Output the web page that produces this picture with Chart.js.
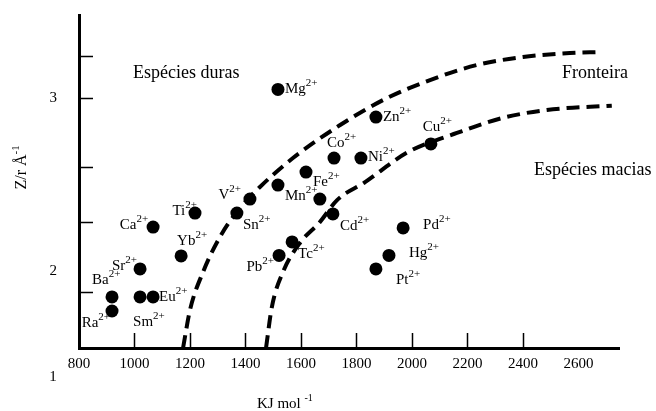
<!DOCTYPE html>
<html>
<head>
<meta charset="utf-8">
<script src="https://cdn.jsdelivr.net/npm/chart.js@4/dist/chart.umd.min.js"></script>
<style>
    html, body { margin: 0; padding: 0; background: #fff; }
    #wrap { width: 656px; height: 411px; }
</style>
</head>
<body>
<div id="wrap"><canvas id="chart"></canvas></div>
<script>
// Ions (x = KJ mol-1, y = Z/r)
const ions = ['Mg', 'Zn', 'Cu', 'Co', 'Ni', 'Fe', 'Mn', '', 'V', 'Sn', 'Ti', 'Cd', 'Ca', 'Pd',
    'Tc', 'Yb', 'Pb', 'Hg', 'Sr', 'Pt', 'Ba', 'Sm', 'Eu', 'Ra'];
const kjValues = [1517, 1870, 2068, 1719, 1816, 1618, 1517, 1668, 1416, 1369, 1218, 1715, 1067, 1968,
    1568, 1168, 1521, 1917, 1020, 1870, 919, 1020, 1067, 919];
const zrValues = [3.05, 2.89, 2.735, 2.653, 2.653, 2.572, 2.497, 2.416, 2.416, 2.335, 2.335, 2.33, 2.254, 2.249,
    2.168, 2.087, 2.09, 2.09, 2.012, 2.012, 1.85, 1.85, 1.85, 1.769];

// Dashed boundaries
const outerX = [1175, 1200, 1247, 1308, 1380, 1452, 1571, 1741, 1910, 2065, 2234, 2400, 2569, 2677];
const outerY = [1.555, 1.775, 1.994, 2.197, 2.364, 2.486, 2.653, 2.844, 3.0, 3.104, 3.191, 3.237, 3.26, 3.266];
const innerX = [1474, 1495, 1535, 1596, 1668, 1730, 1831, 1986, 2162, 2324, 2486, 2720];
const innerY = [1.555, 1.792, 1.994, 2.162, 2.283, 2.41, 2.514, 2.688, 2.798, 2.884, 2.931, 2.956];

// Axes
const xTickLabels = [800, 1000, 1200, 1400, 1600, 1800, 2000, 2200, 2400, 2600];
const xTickMarks = [1000, 1200, 1400, 1600, 1800, 2000, 2200, 2400];
const yTickLabels = [2, 3];
const yTickMarks = [1.879, 2.283, 2.601, 3, 3.243];

// Region texts
const regionNames = ['Espécies duras', 'Fronteira', 'Espécies macias'];
const regionX = [995, 2541, 2440];
const regionY = [3.145, 3.145, 2.584];

// label placement per ion: [dx, dy, align]
const labelPlace = [
    [7, 0, 'left'], [7, 0, 'left'], [-8, -17, 'left'], [-7, -15, 'left'], [7, -1, 'left'],
    [7, 10, 'left'], [7, 11, 'left'], null, [-9, -4, 'right'], [6, 12, 'left'],
    [2, -2, 'right'], [7, 12, 'left'], [-5, -2, 'right'], [20, -3, 'left'], [6, 12, 'left'],
    [-4, -15, 'left'], [-5, 12, 'right'], [20, -2, 'left'], [-3, -3, 'right'], [20, 11, 'left'],
    [-20, -17, 'left'], [-7, 25, 'left'], [6, 0, 'left'], [-2, 12, 'right']
];

const SERIF = "'Liberation Serif', 'DejaVu Serif', serif";

function toPoints(xs, ys) {
    return xs.map((x, i) => ({ x: x, y: ys[i] }));
}

// text with a superscript, anchored at its vertical middle
function supText(ctx, base, sup, x, y, align, size, supSize) {
    ctx.font = size + 'px ' + SERIF;
    const w1 = ctx.measureText(base).width;
    ctx.font = supSize + 'px ' + SERIF;
    const w2 = ctx.measureText(sup).width;
    let left = align === 'right' ? x - w1 - w2 : x;
    ctx.textAlign = 'left';
    ctx.textBaseline = 'middle';
    ctx.font = size + 'px ' + SERIF;
    ctx.fillText(base, left, y);
    ctx.font = supSize + 'px ' + SERIF;
    ctx.fillText(sup, left + w1, y - 6);
}

const annotations = {
    id: 'annotations',
    afterDatasetsDraw(chart) {
        const ctx = chart.ctx;
        const xs = chart.scales.x;
        const ys = chart.scales.y;
        const area = chart.chartArea;
        ctx.save();
        ctx.fillStyle = '#000';
        ctx.strokeStyle = '#000';

        // inward tick marks
        ctx.lineWidth = 1.5;
        ctx.beginPath();
        xTickMarks.forEach(v => {
            const px = Math.round(xs.getPixelForValue(v)) + 0.5;
            ctx.moveTo(px, area.bottom);
            ctx.lineTo(px, area.bottom - 15);
        });
        yTickMarks.forEach(v => {
            const py = Math.round(ys.getPixelForValue(v)) + 0.5;
            ctx.moveTo(area.left, py);
            ctx.lineTo(area.left + 14, py);
        });
        ctx.stroke();

        // ion labels
        const meta = chart.getDatasetMeta(2);
        ions.forEach((name, i) => {
            const p = labelPlace[i];
            if (!name || !p) return;
            const el = meta.data[i];
            supText(ctx, name, '2+', el.x + p[0], el.y + p[1], p[2], 15, 11);
        });

        // region names
        ctx.font = '18px ' + SERIF;
        ctx.textAlign = 'left';
        ctx.textBaseline = 'middle';
        regionNames.forEach((t, i) => {
            ctx.fillText(t, xs.getPixelForValue(regionX[i]), ys.getPixelForValue(regionY[i]));
        });

        // stray "1" under the y labels
        ctx.font = '15px ' + SERIF;
        ctx.textAlign = 'center';
        ctx.fillText('1', 53, area.bottom + 29);

        // axis titles
        supText(ctx, 'KJ mol ', '-1', 257, area.bottom + 56, 'left', 15, 10);
        ctx.translate(22, 168);
        ctx.rotate(-Math.PI / 2);
        ctx.font = '16px ' + SERIF;
        const w = ctx.measureText('Z/r Å').width + 8;
        supText(ctx, 'Z/r Å', '-1', -w / 2, 0, 'left', 16, 11);
        ctx.restore();
    }
};

const chart = new Chart(document.getElementById('chart'), {
    type: 'scatter',
    data: {
        datasets: [
            {
                data: toPoints(outerX, outerY),
                showLine: true,
                borderColor: '#000',
                borderWidth: 4,
                borderDash: [13, 7],
                cubicInterpolationMode: 'monotone',
                pointRadius: 0
            },
            {
                data: toPoints(innerX, innerY),
                showLine: true,
                borderColor: '#000',
                borderWidth: 4,
                borderDash: [13, 7],
                cubicInterpolationMode: 'monotone',
                pointRadius: 0
            },
            {
                data: toPoints(kjValues, zrValues),
                backgroundColor: '#000',
                borderColor: '#000',
                pointRadius: 6.5,
                pointBorderWidth: 0
            }
        ]
    },
    options: {
        responsive: true,
        maintainAspectRatio: false,
        animation: false,
        layout: { padding: { top: 15, right: 37, left: 0, bottom: 0 } },
        plugins: {
            legend: { display: false },
            tooltip: { enabled: false }
        },
        scales: {
            x: {
                type: 'linear',
                min: 800,
                max: 2746,
                afterBuildTicks: s => { s.ticks = xTickLabels.map(v => ({ value: v })); },
                afterFit: s => { s.height = 63; s.paddingLeft = 0; s.paddingRight = 0; },
                ticks: {
                    color: '#000',
                    padding: 7,
                    maxRotation: 0,
                    autoSkip: false,
                    callback: v => String(v),
                    font: { family: SERIF, size: 15 }
                },
                grid: { display: false, drawTicks: false },
                border: { display: true, color: '#000', width: 3 }
            },
            y: {
                type: 'linear',
                min: 1.555,
                max: 3.48,
                afterBuildTicks: s => { s.ticks = yTickLabels.map(v => ({ value: v })); },
                afterFit: s => { s.width = 79; s.paddingTop = 0; s.paddingBottom = 0; },
                ticks: {
                    color: '#000',
                    padding: 22,
                    callback: v => String(v),
                    font: { family: SERIF, size: 15 }
                },
                grid: { display: false, drawTicks: false },
                border: { display: true, color: '#000', width: 3 }
            }
        }
    },
    plugins: [annotations]
});
</script>
</body>
</html>
